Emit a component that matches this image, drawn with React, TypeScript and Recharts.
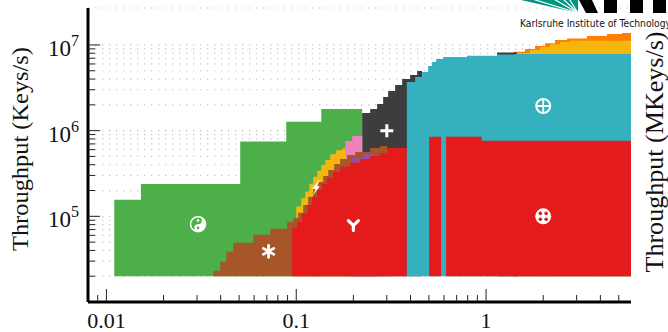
import { AreaChart, Area, XAxis, YAxis, CartesianGrid, ReferenceDot } from "recharts";

// every configuration was measured from this throughput upward
const FLOOR = 2e4;

// best-algorithm regions: step edges (x = size, top = throughput), null breaks a region
const greenX = [0.011, 0.0152, 0.0507, 0.0886, 0.1355, 0.2225];
const greenTop = [1.56e5, 2.39e5, 7.45e5, 1.27e6, 1.79e6, 1.79e6];

const orangeTopX = [1.387, 1.604, 1.811, 2.044, 2.307, 2.669, 3.401, 4.333, 5.196, 5.8];
const orangeTop = [8.33e6, 8.95e6, 9.71e6, 1.05e7, 1.14e7, 1.19e7, 1.27e7, 1.34e7, 1.38e7, 1.38e7];

const yellowTopX = [1.456, 1.704, 1.924, 2.172, 2.452, 2.767, 5.8];
const yellowTop = [8.04e6, 8.72e6, 9.45e6, 1.02e7, 1.08e7, 1.12e7, 1.12e7];

const grayX = [0.2225, 0.2452, 0.2668, 0.287, 0.305, 0.3319, 0.3613, 0.3981, 0.4334, 0.4605, 0.8, 1.143, 1.456];
const grayTop = [1.61e6, 1.79e6, 2.05e6, 2.47e6, 2.9e6, 3.41e6, 4.0e6, 4.46e6, 4.96e6, 4.96e6, null, 8.15e6, 8.15e6];

const amberX = [0.1, 0.1062, 0.1115, 0.1171, 0.1229, 0.129, 0.1354, 0.1421, 0.151, 0.1623, 0.1747, 0.1879];
const amberTop = [1.3e5, 1.62e5, 1.95e5, 2.4e5, 2.9e5, 3.4e5, 4.0e5, 4.55e5, 5.3e5, 5.9e5, 6.2e5, 6.2e5];

const pinkX = [0.1811, 0.1971, 0.2225];
const pinkTop = [7.59e5, 8.68e5, 8.68e5];

const brownX = [
  0.0366, 0.0398, 0.0428, 0.0466, 0.0594, 0.073, 0.0897, 0.0964, 0.1024, 0.1088, 0.1156,
  0.1229, 0.1305, 0.1387, 0.1474, 0.1585, 0.1704, 0.1855, 0.2044, 0.2452, 0.2767, 0.3012,
];
const brownTop = [
  2.32e4, 2.95e4, 3.86e4, 4.91e4, 6.09e4, 7.15e4, 8.63e4, 9.6e4, 1.1e5, 1.36e5, 1.69e5,
  2.09e5, 2.52e5, 2.96e5, 3.48e5, 4.09e5, 4.68e5, 5.21e5, 5.65e5, 6.29e5, 6.63e5, 6.63e5,
];

const purpleX = [0.1971, 0.2253, 0.2543];
const purpleTop = [4.81e5, 5.35e5, 5.35e5];

const redX = [
  0.0953, 0.1012, 0.1075, 0.1143, 0.1214, 0.129, 0.137, 0.1456, 0.1565, 0.1704, 0.1924,
  0.2172, 0.2452, 0.2767, 0.3012, 0.3825,
];
const redTop = [
  7.34e4, 8.63e4, 1.07e5, 1.36e5, 1.69e5, 2.04e5, 2.39e5, 2.81e5, 3.3e5, 3.78e5, 4.21e5,
  4.68e5, 5.07e5, 5.5e5, 6.29e5, 6.29e5,
];

const cyanX = [0.3825, 0.4229, 0.4605, 0.4951, 0.5196, 0.5456, 0.5939, 0.7943, 1.143, 1.421, 5.8];
const cyanTop = [3.69e6, 4.23e6, 4.83e6, 5.68e6, 6.32e6, 6.85e6, 7.23e6, 7.48e6, 7.73e6, 7.83e6, 7.83e6];

const crossRedX = [0.5012, 0.5796, 0.6, 0.616, 0.9493, 5.8];
const crossRedTop = [8.51e5, 8.51e5, null, 8.51e5, 7.64e5, 7.64e5];

// region symbols: [x, y]
const yinYangAt = [0.0304, 8.1e4];
const starAt = [0.0715, 3.9e4];
const boltAt = [0.127, 2.15e5];
const forkAt = [0.2, 7.9e4];
const plusAt = [0.3, 1.0e6];
const oplusAt = [2.0, 1.94e6];
const otimesAt = [2.0, 1.0e5];

const X_TICKS = [
  0.009, 0.01, 0.02, 0.03, 0.04, 0.05, 0.06, 0.07, 0.08, 0.09,
  0.1, 0.2, 0.3, 0.4, 0.5, 0.6, 0.7, 0.8, 0.9, 1, 2, 3, 4, 5,
];
const X_MAJOR = [0.01, 0.1, 1];
const X_LABELS = ["0.01", "0.1", "1"];

const Y_TICKS = [
  2e4, 3e4, 4e4, 5e4, 6e4, 7e4, 8e4, 9e4,
  1e5, 2e5, 3e5, 4e5, 5e5, 6e5, 7e5, 8e5, 9e5,
  1e6, 2e6, 3e6, 4e6, 5e6, 6e6, 7e6, 8e6, 9e6, 1e7,
];
const Y_MAJOR = [1e5, 1e6, 1e7];
const Y_EXPONENTS = ["5", "6", "7"];

const GREEN = "#4daf4a";
const RED = "#e41a1c";
const SERIF = "'Liberation Serif', 'DejaVu Serif', serif";
const AXIS_X = 88;
const AXIS_Y = 302;

// painted bottom to top, later layers cover earlier ones
const layers = [
  { name: "green", color: GREEN, xs: greenX, tops: greenTop },
  { name: "orangeTop", color: "#ff7f00", xs: orangeTopX, tops: orangeTop },
  { name: "yellowTop", color: "#f6b610", xs: yellowTopX, tops: yellowTop },
  { name: "gray", color: "#3d3d3d", xs: grayX, tops: grayTop },
  { name: "amber", color: "#f6b610", xs: amberX, tops: amberTop },
  { name: "pink", color: "#f081bd", xs: pinkX, tops: pinkTop },
  { name: "brown", color: "#a65628", xs: brownX, tops: brownTop },
  { name: "purple", color: "#984ea3", xs: purpleX, tops: purpleTop },
  { name: "red", color: RED, xs: redX, tops: redTop },
  { name: "cyan", color: "#35b0bf", xs: cyanX, tops: cyanTop },
  { name: "crossRed", color: RED, xs: crossRedX, tops: crossRedTop },
];

const toRows = (xs: number[], tops: (number | null)[]) =>
  xs.map((x, i) => ({ x, band: tops[i] == null ? null : [FLOOR, tops[i]] }));

const XTick = (props: any) => {
  const { x, payload } = props;
  const i = X_MAJOR.indexOf(payload.value);
  return (
    <g>
      <line x1={x} x2={x} y1={AXIS_Y} y2={AXIS_Y - (i >= 0 ? 13 : 7)} stroke="#222" strokeWidth={1} />
      {i >= 0 && (
        <text x={x} y={328} textAnchor="middle" fontFamily={SERIF} fontSize={22} fill="#111">
          {X_LABELS[i]}
        </text>
      )}
    </g>
  );
};

const YTick = (props: any) => {
  const { y, payload } = props;
  const i = Y_MAJOR.indexOf(payload.value);
  return (
    <g>
      <line x1={AXIS_X} x2={AXIS_X + (i >= 0 ? 12 : 7)} y1={y} y2={y} stroke="#222" strokeWidth={1} />
      {i >= 0 && (
        <text x={79} y={y + 11} textAnchor="end" fontFamily={SERIF} fontSize={23} fill="#111">
          10
          <tspan dy={-10} fontSize={16}>{Y_EXPONENTS[i]}</tspan>
        </text>
      )}
    </g>
  );
};

const YinYang = ({ cx, cy }: any) => (
  <g transform={`translate(${cx},${cy})`}>
    <circle r={7.5} fill="none" stroke="#fff" strokeWidth={1.5} />
    <path d="M0,-7.5 A7.5,7.5 0 0,1 0,7.5 A3.75,3.75 0 0,1 0,0 A3.75,3.75 0 0,0 0,-7.5 Z" fill="#fff" />
    <circle cy={-3.75} r={1.3} fill="#fff" />
    <circle cy={3.75} r={1.3} fill={GREEN} />
  </g>
);

const Star = ({ cx, cy }: any) => (
  <g transform={`translate(${cx},${cy})`} stroke="#fff" strokeWidth={2.8} strokeLinecap="round">
    <line x1={0} y1={-6} x2={0} y2={6} />
    <line x1={-5.2} y1={-3} x2={5.2} y2={3} />
    <line x1={-5.2} y1={3} x2={5.2} y2={-3} />
  </g>
);

const Bolt = ({ cx, cy }: any) => (
  <g transform={`translate(${cx},${cy})`}>
    <polygon points="3,-7.5 -3.8,1 -0.3,1 -2.8,7.5 3.8,-1.5 0.4,-1.5 4,-7.5" fill="#fff" />
  </g>
);

const Fork = ({ cx, cy }: any) => (
  <g transform={`translate(${cx},${cy})`} stroke="#fff" strokeWidth={3.2} fill="none" strokeLinecap="round">
    <path d="M-5,-4.5 L0,0.5 L5,-4.5 M0,0.5 L0,5.5" />
  </g>
);

const Plus = ({ cx, cy }: any) => (
  <g transform={`translate(${cx},${cy})`} stroke="#fff" strokeWidth={3}>
    <path d="M-6.5,0 H6.5 M0,-6.5 V6.5" />
  </g>
);

const OPlus = ({ cx, cy }: any) => (
  <g transform={`translate(${cx},${cy})`} stroke="#fff" fill="none">
    <circle r={7} strokeWidth={2} />
    <path d="M-7,0 H7 M0,-7 V7" strokeWidth={1.8} />
  </g>
);

const OTimes = ({ cx, cy }: any) => (
  <g transform={`translate(${cx},${cy})`}>
    <circle r={8} fill="#fff" />
    <circle cx={-2.9} cy={-2.9} r={1.8} fill={RED} />
    <circle cx={2.9} cy={-2.9} r={1.8} fill={RED} />
    <circle cx={-2.9} cy={2.9} r={1.8} fill={RED} />
    <circle cx={2.9} cy={2.9} r={1.8} fill={RED} />
  </g>
);

const symbols = [
  { at: yinYangAt, shape: YinYang },
  { at: starAt, shape: Star },
  { at: boltAt, shape: Bolt },
  { at: forkAt, shape: Fork },
  { at: plusAt, shape: Plus },
  { at: oplusAt, shape: OPlus },
  { at: otimesAt, shape: OTimes },
];

// thin white rays that split the logo fan
const rayAngles = [163, 150, 137, 122];
const rayEnd = (deg: number) => {
  const r = 80;
  return { x: 578 + r * Math.cos((deg * Math.PI) / 180), y: 13 - r * Math.sin((deg * Math.PI) / 180) };
};

const App = () => {
  return (
    <div style={{ position: "absolute", left: 0, top: 0, background: "#fff" }}>
      <AreaChart width={668} height={332} margin={{ top: 8, right: 37, bottom: 0, left: 0 }}>
        <CartesianGrid vertical={false} stroke="#c4c4c4" strokeDasharray="1.3 5.7" strokeWidth={1.2} />
        <XAxis
          dataKey="x"
          type="number"
          scale="log"
          domain={[0.008, 5.8]}
          allowDataOverflow
          ticks={X_TICKS}
          interval={0}
          tick={XTick}
          tickLine={false}
          axisLine={{ stroke: "#000", strokeWidth: 3 }}
          height={30}
        />
        <YAxis
          type="number"
          scale="log"
          domain={[1e4, 2.7e7]}
          allowDataOverflow
          ticks={Y_TICKS}
          interval={0}
          tick={YTick}
          tickLine={false}
          axisLine={{ stroke: "#000", strokeWidth: 3 }}
          width={88}
        />
        {layers.map((l) => (
          <Area
            key={l.name}
            data={toRows(l.xs, l.tops)}
            dataKey="band"
            type="stepAfter"
            fill={l.color}
            fillOpacity={1}
            stroke="none"
            dot={false}
            activeDot={false}
            isAnimationActive={false}
          />
        ))}
        {symbols.map((s, i) => (
          <ReferenceDot key={i} x={s.at[0]} y={s.at[1]} r={0} shape={(p: any) => <s.shape cx={p.cx} cy={p.cy} />} />
        ))}
        <text
          transform="translate(28,149) rotate(-90)"
          textAnchor="middle"
          fontFamily={SERIF}
          fontSize={24}
          fill="#111"
          textLength={204}
          lengthAdjust="spacingAndGlyphs"
        >
          Throughput (Keys/s)
        </text>
        <text
          transform="translate(663,152) rotate(-90)"
          textAnchor="middle"
          fontFamily={SERIF}
          fontSize={26}
          fill="#111"
          textLength={241}
          lengthAdjust="spacingAndGlyphs"
        >
          Throughput (MKeys/s)
        </text>
        <g>
          <polygon points="521,0 578,0 578,13" fill="#009682" />
          {rayAngles.map((a, i) => {
            const e = rayEnd(a);
            return <line key={i} x1={578} y1={13} x2={e.x} y2={e.y} stroke="#fff" strokeWidth={1.2} />;
          })}
          <polygon points="579,0 592,0 598,13 586,13" fill="#000" />
          <rect x={604} y={0} width={13} height={13} fill="#000" />
          <rect x={630} y={0} width={13} height={13} fill="#000" />
          <rect x={653} y={0} width={13} height={13} fill="#000" />
          <text x={520} y={26.5} fontFamily="'DejaVu Sans', sans-serif" fontSize={10.5} fill="#111" textLength={151} lengthAdjust="spacingAndGlyphs">
            Karlsruhe Institute of Technology
          </text>
        </g>
      </AreaChart>
    </div>
  );
};

export default App;
